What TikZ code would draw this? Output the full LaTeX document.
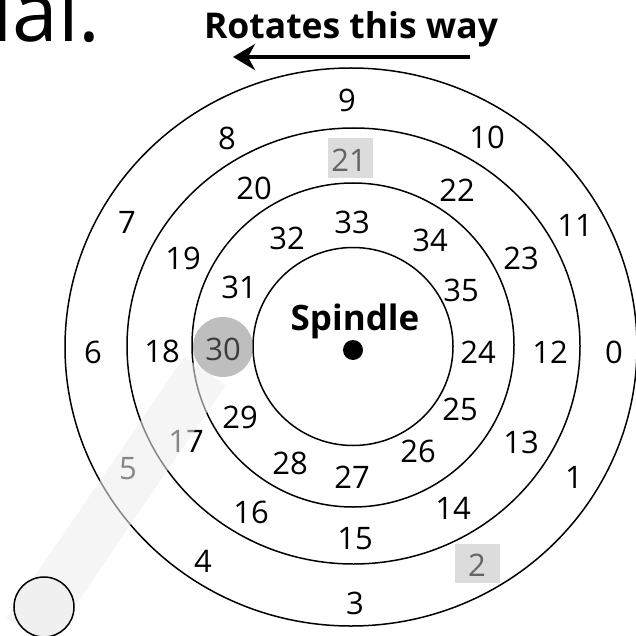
\documentclass[tikz,border=0pt]{standalone}
\usepackage{fontspec}
\setmainfont{Open Sans}
\usetikzlibrary{arrows.meta}
\definecolor{bandc}{RGB}{237,237,237}
\definecolor{hlc}{RGB}{123,123,123}
\definecolor{boxc}{RGB}{189,189,189}
\definecolor{wheelc}{RGB}{240,240,240}
\begin{document}
\begin{tikzpicture}[x=1pt,y=-1pt,
  ring/.style={draw=black, line width=1.5pt},
  num/.style={inner sep=0pt, font=\fontsize{31}{31}\selectfont},
  boxhl/.style={fill=boxc, fill opacity=0.53},
  title/.style={inner sep=0pt, font=\bfseries\fontsize{35.5}{35.5}\selectfont}]
\useasboundingbox (0,0) rectangle (636,636);
% partial text cut at top
\node[inner sep=0pt, anchor=base east, font=\fontsize{82}{82}\selectfont] (cut) at (101,42) {ual.};
% title and arrow
\node[title, anchor=base] (rot) at (351,39) {Rotates this way};
\coordinate (arrS) at (470,57);
\coordinate (arrE) at (233,57);
\draw[line width=4pt, -{Stealth[length=22pt, width=26pt, inset=7pt]}] (arrS) -- (arrE);
% rings
\draw[ring] (351,347) ellipse [x radius=286, y radius=279];
\draw[ring] (353.5,346) ellipse [x radius=226.5, y radius=218];
\draw[ring] (353,345) ellipse [x radius=161, y radius=162];
\draw[ring] (353,346.5) ellipse [x radius=100, y radius=99];
% numbers
\foreach \lab/\px/\py in {9/347/100, 10/487/137, 11/575/225, 0/614/352, 1/574/477, 2/477/565, 3/355/603, 4/203/561, 5/128/469, 6/93/352, 7/127/222, 8/227/138,
  12/550/352, 13/521/442, 14/453/508, 15/355/539, 16/251/512, 17/186/441, 18/162/351, 19/183/258, 20/254/188, 21/349/160, 22/457/190, 23/521/258,
  24/478/352, 25/460/409, 26/418/451, 27/352/477, 28/290/463, 29/240/417, 30/223/349, 31/239/287, 32/287/238, 33/352/222, 34/430/240, 35/461/290}
  \node[num] (n\lab) at (\px,\py) {\lab};
% spindle
\node[inner sep=0pt, font=\bfseries\fontsize{35}{35}\selectfont] (spin) at (355,321) {Spindle};
\fill (353,350) circle (10);
% highlights
\fill[boxhl] (328,138) rectangle (373,178);
\fill[boxhl] (455,544) rectangle (500,583);
\fill[hlc, fill opacity=0.49] (223,347) circle (30);
% band
\coordinate (bandA) at (27,632);
\coordinate (bandB) at (205,371);
\draw[bandc, line width=50pt, draw opacity=0.57, line cap=butt] (bandA) -- (bandB);
% wheel
\draw[fill=wheelc, line width=1.5pt] (44,607) circle (30);
\end{tikzpicture}
\end{document}
